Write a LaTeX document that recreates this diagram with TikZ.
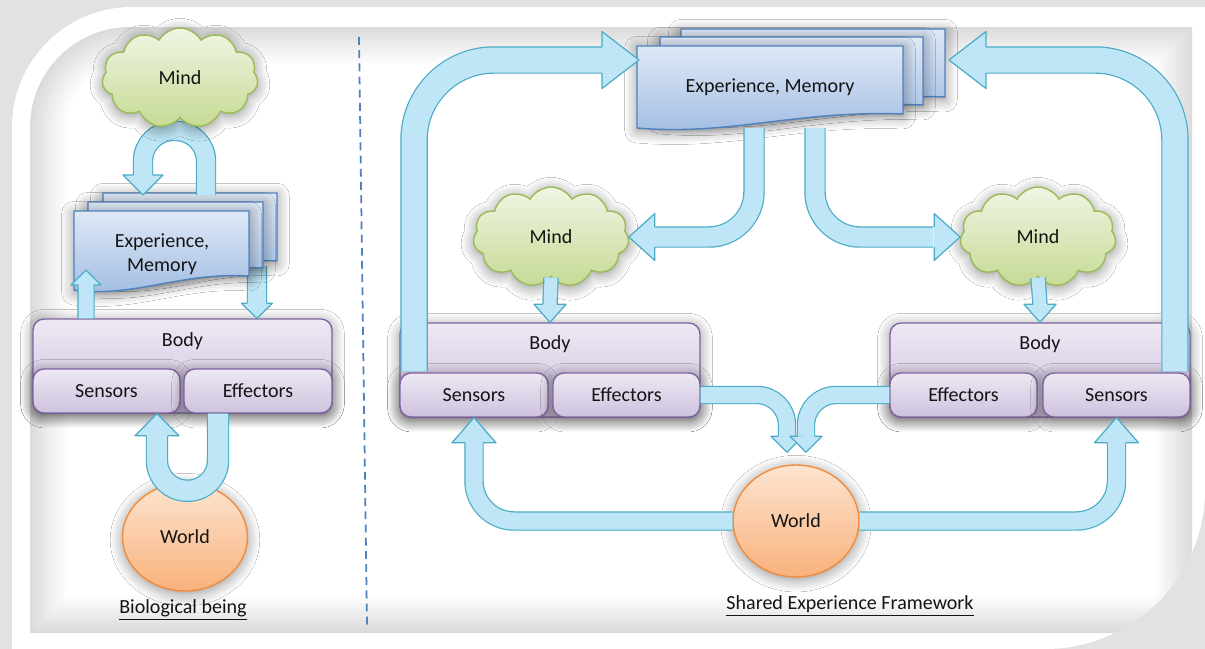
\documentclass[tikz,border=0pt]{standalone}
\usepackage{fontspec}
\setmainfont{Carlito}
\usetikzlibrary{shapes.symbols, shapes.geometric, shadows.blur}

\definecolor{arrfill}{RGB}{190,230,246}
\definecolor{arrline}{RGB}{75,172,198}
\definecolor{memtop}{RGB}{222,232,246}
\definecolor{membot}{RGB}{160,188,226}
\definecolor{memline}{RGB}{79,129,189}
\definecolor{bodytop}{RGB}{238,232,244}
\definecolor{bodybot}{RGB}{206,194,222}
\definecolor{bodyline}{RGB}{128,100,162}
\definecolor{mindtop}{RGB}{240,245,228}
\definecolor{mindbot}{RGB}{198,218,148}
\definecolor{mindline}{RGB}{155,187,89}
\definecolor{worldtop}{RGB}{253,228,208}
\definecolor{worldbot}{RGB}{248,178,124}
\definecolor{worldline}{RGB}{240,140,60}
\definecolor{divline}{RGB}{79,129,189}
\definecolor{framegray}{RGB}{226,226,226}
\definecolor{txtcol}{RGB}{20,20,20}

% block arrows: a shaft with a border, and a separate head
\newcommand{\shaft}[3][]{%
  \draw[arrline, #1, line width={#2*0.02cm+1.4pt}] #3;
  \draw[arrfill, #1, line width={#2*0.02cm}] #3;}
\newcommand{\ahead}[5]{%
  \begin{scope}[shift={#1}, rotate=#2]
    \fill[arrfill] (0,0) -- (-#4,#3/2) -- (-#4,-#3/2) -- cycle;
    \draw[arrline, line width=0.7pt, line join=round] (-#4,#5/2+0.6) -- (-#4,#3/2) -- (0,0) -- (-#4,-#3/2) -- (-#4,-#5/2-0.6);
  \end{scope}}
% one page of the experience stack
\newcommand{\mempage}[4]{%
  \path[mempg] (#1,#2) -- (#3,#2) -- (#3,{#4-14}) .. controls ({#1+0.6*(#3-#1)},{#4-18}) and ({#1+0.35*(#3-#1)},{#4+8}) .. (#1,#4) -- cycle;}

\begin{document}
\begin{tikzpicture}[x=0.02cm, y=-0.02cm,
    every node/.style={text=txtcol, font=\fontsize{11.4}{13.5}\selectfont}]
  \tikzstyle{soft} = [blur shadow={shadow blur radius=7pt, shadow xshift=0pt,
    shadow yshift=-1.5pt, shadow opacity=45, shadow blur steps=8}]
  \tikzstyle{body} = [soft, draw=bodyline, line width=0.8pt, rounded corners=0.22cm,
    top color=bodytop, bottom color=bodybot, inner sep=0pt]
  \tikzstyle{part} = [body, minimum height=0.88cm]
  \tikzstyle{mind} = [soft, cloud, cloud puffs=11, cloud puff arc=120, aspect=1.56,
    draw=mindline, line width=0.8pt, top color=mindtop, bottom color=mindbot,
    minimum width=3.12cm, minimum height=2cm, inner sep=0pt]
  \tikzstyle{world} = [soft, ellipse, draw=worldline, line width=0.8pt,
    top color=worldtop, bottom color=worldbot, inner sep=0pt]
  \tikzstyle{mempg} = [soft, draw=memline, line width=0.8pt, top color=memtop,
    bottom color=membot]

  \useasboundingbox (0,0) rectangle (1205,649);
  % frame
  \fill[framegray] (0,0) rectangle (1205,649);
  \fill[white] (12,649) -- (12,127) .. controls (12,61) and (66,7) .. (132,7)
    -- (1205,7) -- (1205,490) .. controls (1205,575) and (1135,649) .. (1045,649) -- cycle;
  \begin{scope}
    \clip (12,649) -- (12,127) .. controls (12,61) and (66,7) .. (132,7)
      -- (1205,7) -- (1205,490) .. controls (1205,575) and (1135,649) .. (1045,649) -- cycle;
    \foreach \i in {0,...,14} {
      \pgfmathsetmacro{\gv}{28-2*\i}
      \pgfmathsetmacro{\dv}{2.6*\i}
      \pgfmathsetmacro{\rv}{100-\dv}
      \fill[gray!\gv] ({30+\dv},{633-\dv}) -- ({30+\dv},{27+\dv+\rv})
        .. controls ({30+\dv},{27+\dv+0.45*\rv}) and ({30+\dv+0.45*\rv},{27+\dv}) .. ({30+\dv+\rv},{27+\dv})
        -- ({1192-\dv},{27+\dv}) -- ({1192-\dv},{633-\dv}) -- cycle;
    }
  \end{scope}
  \draw[divline, line width=1pt, dash pattern=on 4.5pt off 3pt] (359,37) -- (367,625);

  % ---- biological being ----
  \coordinate (memLa) at (206,195);
  \coordinate (memLb) at (143,195);
  \coordinate (memLup) at (86,270);
  \coordinate (memLdn) at (257,266);
  \node[body, minimum width=5.98cm, minimum height=1.88cm] (bodyL) at (182.5,366) {};
  \node (bodyLt) at ([yshift=-0.46cm]bodyL.north) {Body};
  \node[part, minimum width=2.94cm] (senL) at (106.5,391) {Sensors};
  \node[part, minimum width=2.96cm] (effL) at (258,391) {Effectors};
  \shaft{18}{(memLdn) -- ([xshift=1.49cm,yshift=0.3cm]bodyL.north)}
  \ahead{([xshift=1.49cm]bodyL.north)}{-90}{31}{15}{18}
  \mempage{103}{193}{277}{275}
  \mempage{88}{202}{263}{282}
  \mempage{74}{211}{249}{290}
  \node[align=center] (memL) at (162,254) {Experience,\\Memory};
  \shaft[rounded corners=0.6cm]{18}{(memLa) -- ++(0,-64) -| ([yshift=0.4cm]memLb)}
  \ahead{(memLb)}{-90}{40}{20}{18}
  \node[mind] (mindL) at (180,78) {Mind};
  \shaft{15}{([xshift=-1.93cm]bodyL.north) -- ([yshift=-0.3cm]memLup)}
  \ahead{(memLup)}{90}{30}{15}{15}
  \node[world, minimum width=2.5cm, minimum height=2.16cm] (worldL) at (185,537) {World};
  \shaft[rounded corners=0.6cm]{20}{([xshift=-0.8cm]effL.south) -- ++(0,77) -| ([xshift=1.01cm,yshift=-0.44cm]senL.south)}
  \ahead{([xshift=1.01cm]senL.south)}{90}{44}{22}{20}
  \node (bioL) at (183,610) {\underline{Biological being}};

  % ---- shared experience framework ----
  \coordinate (memRin) at (639,60);
  \coordinate (memRout) at (949,60);
  \coordinate (memRa) at (754,128);
  \coordinate (memRb) at (815,128);
  \mempage{681}{29}{945}{111}
  \mempage{660}{37}{923}{119}
  \mempage{637}{46}{903}{128}
  \node (memR) at (770,87) {Experience, Memory};

  \node[body, minimum width=6cm, minimum height=1.88cm] (bodyA) at (550,370) {};
  \node (bodyAt) at ([yshift=-0.44cm]bodyA.north) {Body};
  \node[part, minimum width=2.96cm] (senA) at (474,395) {Sensors};
  \node[part, minimum width=2.94cm] (effA) at (626.5,395) {Effectors};
  \node[body, minimum width=6cm, minimum height=1.88cm] (bodyB) at (1040,370) {};
  \node (bodyBt) at ([yshift=-0.44cm]bodyB.north) {Body};
  \node[part, minimum width=2.94cm] (effB) at (963.5,395) {Effectors};
  \node[part, minimum width=2.94cm] (senB) at (1116.5,395) {Sensors};

  \node[world, minimum width=2.52cm, minimum height=2.24cm] (worldR) at (796,521) {World};
  \node[mind] (mindA) at (551,237) {Mind};
  \node[mind] (mindB) at (1038,237) {Mind};

  \shaft[rounded corners=1.6cm]{25}{([xshift=-2.72cm,yshift=-0.98cm]bodyA.north) |- ([xshift=-0.74cm]memRin)}
  \ahead{(memRin)}{0}{57}{37}{25}
  \shaft[rounded corners=1.6cm]{25}{([xshift=2.7cm,yshift=-0.98cm]bodyB.north) |- ([xshift=0.74cm]memRout)}
  \ahead{(memRout)}{180}{57}{37}{25}

  \shaft[rounded corners=0.9cm]{19}{(memRa) |- ([xshift=0.52cm]mindA.east)}
  \ahead{(mindA.east)}{180}{47}{26}{19}
  \shaft[rounded corners=0.9cm]{19}{(memRb) |- ([xshift=-0.54cm]mindB.west)}
  \ahead{(mindB.west)}{0}{47}{26}{19}

  \shaft{13}{(mindA.south) -- ([yshift=0.36cm]bodyA.north)}
  \ahead{(bodyA.north)}{-90}{32}{18}{13}
  \shaft{13}{(mindB.south) -- ([yshift=0.36cm]bodyB.north)}
  \ahead{(bodyB.north)}{-90}{32}{18}{13}

  \shaft[rounded corners=0.6cm]{16}{(effA.east) -| ([xshift=-0.18cm,yshift=0.56cm]worldR.north)}
  \ahead{([xshift=-0.18cm,yshift=0.24cm]worldR.north)}{-90}{32}{16}{16}
  \shaft[rounded corners=0.6cm]{16}{(effB.west) -| ([xshift=0.2cm,yshift=0.56cm]worldR.north)}
  \ahead{([xshift=0.2cm,yshift=0.24cm]worldR.north)}{-90}{32}{16}{16}

  \shaft[rounded corners=0.8cm]{17}{(worldR.west) -| ([yshift=-0.5cm]senA.south)}
  \ahead{(senA.south)}{90}{44}{25}{17}
  \shaft[rounded corners=0.8cm]{17}{(worldR.east) -| ([yshift=-0.5cm]senB.south)}
  \ahead{(senB.south)}{90}{44}{25}{17}

  \node (sefR) at (850,606) {\underline{Shared Experience Framework}};
\end{tikzpicture}
\end{document}
